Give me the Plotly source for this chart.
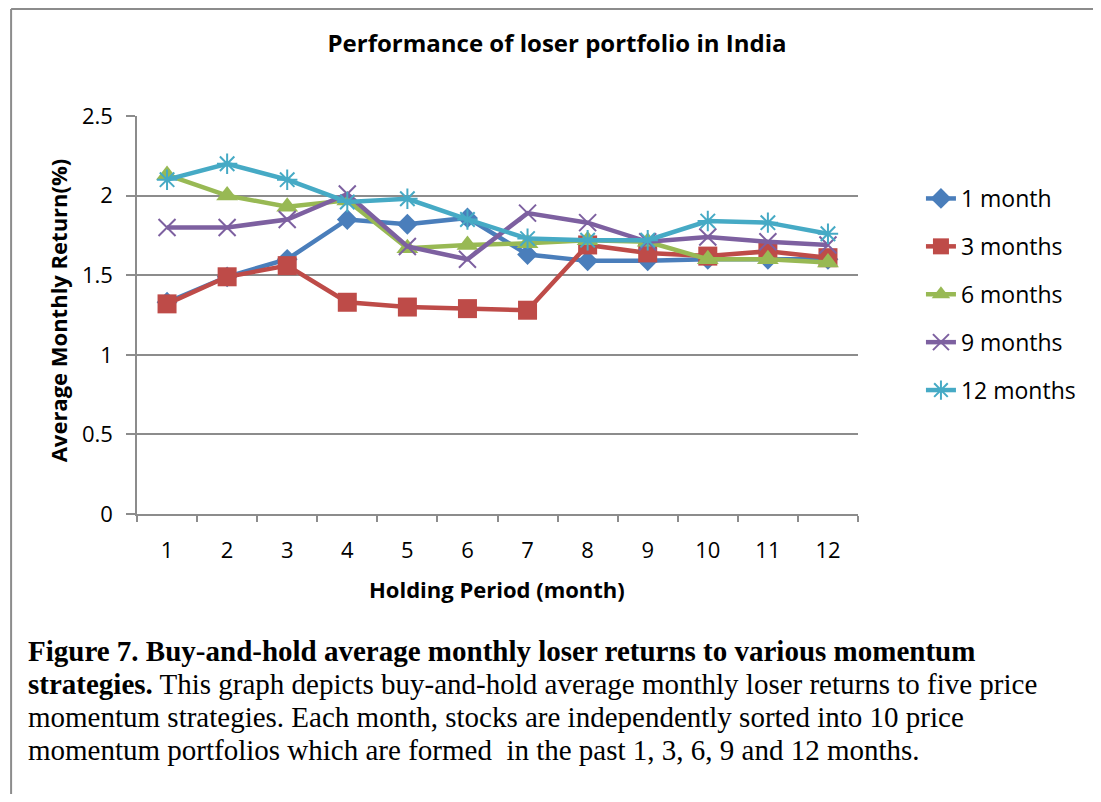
import plotly.graph_objects as go

holding = ["1", "2", "3", "4", "5", "6", "7", "8", "9", "10", "11", "12"]
m1 = [1.33, 1.49, 1.60, 1.85, 1.82, 1.86, 1.63, 1.59, 1.59, 1.60, 1.60, 1.60]
m3 = [1.32, 1.49, 1.56, 1.33, 1.30, 1.29, 1.28, 1.69, 1.64, 1.62, 1.65, 1.61]
m6 = [2.13, 2.00, 1.93, 1.97, 1.67, 1.69, 1.70, 1.72, 1.71, 1.60, 1.60, 1.58]
m9 = [1.80, 1.80, 1.85, 2.01, 1.68, 1.60, 1.89, 1.83, 1.71, 1.74, 1.71, 1.69]
m12 = [2.10, 2.20, 2.10, 1.96, 1.98, 1.85, 1.73, 1.72, 1.72, 1.84, 1.83, 1.76]
names = ["1 month", "3 months", "6 months", "9 months", "12 months"]
y_ticks = [0, 0.5, 1, 1.5, 2, 2.5]
y_tick_text = ["0", "0.5", "1", "1.5", "2", "2.5"]

# page has an 8px body margin; figure coords = page coords - 8
OFF = 8
W, H = 1085, 786
L, R, T, B = 137 - OFF, 870 - OFF, 116 - OFF, 514 - OFF


def px(x_page):
    return (x_page - OFF - L) / (R - L)


def py(y_page):
    return (B - (y_page - OFF)) / (B - T)


styles = [
    dict(color="#4a7ebb", symbol="diamond", size=16, mlw=0),
    dict(color="#be4b48", symbol="square", size=19, mlw=0),
    dict(color="#98b954", symbol="triangle-up", size=19, mlw=0),
    dict(color="#7d60a0", symbol="x-thin-open", size=17, mlw=2),
    dict(color="#46aac5", symbol="asterisk-open", size=17, mlw=2),
]
series = [m1, m3, m6, m9, m12]

fig = go.Figure()
for i, (name, vals, st) in enumerate(zip(names, series, styles)):
    fig.add_trace(go.Scatter(
        x=holding, y=vals, name=name, mode="lines+markers",
        legendgroup=str(i),
        line=dict(color=st["color"], width=4.5),
        marker=dict(symbol=st["symbol"], size=st["size"], color=st["color"],
                    line=dict(color=st["color"], width=st["mlw"])),
    ))

font_sans = "Open Sans, Lato, sans-serif"
grey = "#8c8c8c"

fig.update_layout(
    width=W, height=H,
    margin=dict(l=L, r=W - R, t=T, b=H - B, pad=0),
    paper_bgcolor="white", plot_bgcolor="white",
    font=dict(family=font_sans, color="black"),
    title=dict(text="<b>Performance of loser portfolio in India</b>",
               xref="container", yref="container",
               x=(557 - OFF) / W, xanchor="center", y=1 - (44 - OFF) / H, yanchor="middle",
               font=dict(size=24, family=font_sans)),
    legend=dict(x=px(934), y=py(177), xanchor="left", yanchor="top",
                font=dict(size=23, family=font_sans), tracegroupgap=15,
                bgcolor="rgba(0,0,0,0)"),
    xaxis=dict(type="category", categoryorder="array", categoryarray=holding,
               range=[-0.5, 11.5], showgrid=False, showline=True,
               linecolor=grey, linewidth=1.5, ticks="outside",
               tickson="boundaries", ticklen=6, tickcolor=grey,
               tickwidth=1.5, tickfont=dict(size=22, family=font_sans),
               ticklabelstandoff=16),
    yaxis=dict(range=[0, 2.5], tickvals=y_ticks, ticktext=y_tick_text,
               showgrid=True, gridcolor=grey, gridwidth=1.5,
               showline=True, linecolor=grey, linewidth=1.5,
               ticks="outside", ticklen=9, tickcolor=grey, tickwidth=1.5,
               tickfont=dict(size=22, family=font_sans), ticklabelstandoff=9,
               zeroline=False),
)

# axis titles
fig.add_annotation(text="<b>Holding Period (month)</b>", xref="paper", yref="paper",
                   x=px(503), y=py(589), xanchor="center", yanchor="middle",
                   showarrow=False, font=dict(size=22, family=font_sans, color="black"))
fig.add_annotation(text="<b>Average Monthly Return(%)</b>", xref="paper", yref="paper",
                   x=px(57), y=py(310), xanchor="center", yanchor="middle", textangle=-90,
                   showarrow=False, font=dict(size=22, family=font_sans, color="black"))

# outer frame (left and top edges)
fig.add_shape(type="line", xref="paper", yref="paper",
              x0=px(9), x1=px(9), y0=py(9), y1=py(810), line=dict(color=grey, width=2))
fig.add_shape(type="line", xref="paper", yref="paper",
              x0=px(9), x1=px(1110), y0=py(9), y1=py(9), line=dict(color=grey, width=2))

caption = [
    "<b>Figure 7. Buy-and-hold average monthly loser returns to various momentum</b>",
    "<b>strategies.</b> This graph depicts buy-and-hold average monthly loser returns to five price",
    "momentum strategies. Each month, stocks are independently sorted into 10 price",
    "momentum portfolios which are formed  in the past 1, 3, 6, 9 and 12 months.",
]
cap_y = [651, 684, 717, 750]
for txt, yy in zip(caption, cap_y):
    fig.add_annotation(text=txt, xref="paper", yref="paper", x=px(24), y=py(yy),
                       xanchor="left", yanchor="middle", showarrow=False,
                       font=dict(size=29, family="Liberation Serif, Times New Roman, serif", color="black"))

fig.write_html("out.html")
